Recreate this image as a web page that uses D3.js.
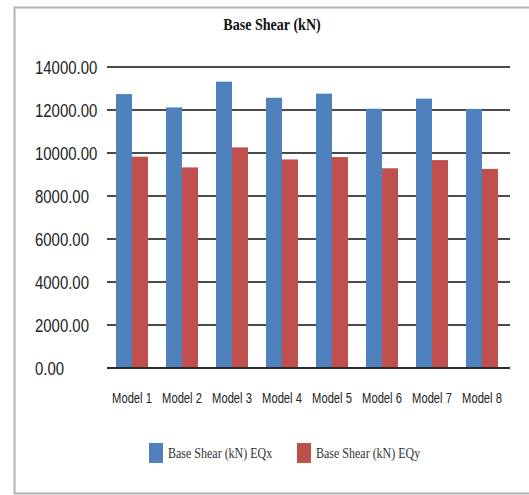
<!DOCTYPE html>
<meta charset="utf-8">
<head>
    <title>Base Shear</title>
    <script src="https://d3js.org/d3.v7.min.js"></script>
</head>

<style>
    body { margin: 0; background: white; overflow: hidden; }
    svg { display: block; }
    .ytick text { font-family: "Liberation Sans", sans-serif; font-size: 18px; fill: #222; }
    .xtick text { font-family: "Liberation Sans", sans-serif; font-size: 14px; fill: #222; }
    .title { font-family: "Liberation Serif", serif; font-weight: bold; font-size: 16px; fill: #111; }
    .legend text { font-family: "Liberation Serif", serif; font-size: 15px; fill: #333; }
</style>

<svg>
    <g></g>
</svg>

<script>
    var vWidth = 529;
    var vHeight = 495;

    var vModels = ['Model 1', 'Model 2', 'Model 3', 'Model 4', 'Model 5', 'Model 6', 'Model 7', 'Model 8'];
    var vEQx = [12740, 12120, 13320, 12570, 12760, 12060, 12530, 12050];
    var vEQy = [9830, 9330, 10260, 9700, 9810, 9290, 9670, 9260];
    var vSeries = ['Base Shear (kN) EQx', 'Base Shear (kN) EQy'];
    var vColors = ['#4f81bd', '#c0504d'];
    var vTicks = [0, 2000, 4000, 6000, 8000, 10000, 12000, 14000];

    var svg = d3.select('svg').attr('width', vWidth).attr('height', vHeight);
    var g = svg.select('g');

    // frame (left, top, bottom only)
    g.append('path')
        .attr('d', 'M' + (vWidth + 10) + ',7.5 H14.5 V493.5 H' + (vWidth + 10))
        .attr('fill', 'none').attr('stroke', '#b4b4b4').attr('stroke-width', 2);

    g.append('text').attr('class', 'title')
        .attr('transform', 'translate(272,30) scale(0.88,1)').attr('text-anchor', 'middle')
        .text('Base Shear (kN)');

    var x = d3.scaleBand().domain(vModels).range([107, 507]).paddingInner(0.36).paddingOuter(0.18);
    var xSub = d3.scaleBand().domain([0, 1]).range([0, x.bandwidth()]);
    var y = d3.scaleLinear().domain([0, 14000]).range([368, 67]);

    // gridlines
    g.selectAll('.grid').data(vTicks).enter().append('line')
        .attr('x1', 107).attr('x2', 510)
        .attr('y1', function (d) { return y(d); })
        .attr('y2', function (d) { return y(d); })
        .attr('stroke', '#2a2a2a').attr('stroke-width', 2).attr('stroke-opacity', 0.85);

    // bars
    var vRows = vModels.map(function (m, i) { return {name: m, vals: [vEQx[i], vEQy[i]]}; });
    var groups = g.selectAll('.grp').data(vRows).enter().append('g')
        .attr('transform', function (d) { return 'translate(' + x(d.name) + ',0)'; });
    groups.selectAll('rect').data(function (d) { return d.vals; }).enter().append('rect')
        .attr('x', function (d, i) { return xSub(i); })
        .attr('y', function (d) { return y(d); })
        .attr('width', xSub.bandwidth())
        .attr('height', function (d) { return y(0) - y(d); })
        .attr('fill', function (d, i) { return vColors[i]; });

    // base line
    g.append('line').attr('x1', 107).attr('x2', 510).attr('y1', y(0)).attr('y2', y(0))
        .attr('stroke', '#2a2a2a').attr('stroke-width', 2);

    // y labels (left aligned, condensed)
    var yAxis = g.append('g').attr('class', 'ytick');
    yAxis.selectAll('text').data(vTicks).enter().append('text')
        .attr('transform', function (d) { return 'translate(35,' + (y(d) + 6.5) + ') scale(0.83,1)'; })
        .text(function (d) { return d3.format('.2f')(d); });

    // x labels
    var xAxis = g.append('g').attr('class', 'xtick');
    xAxis.selectAll('text').data(vModels).enter().append('text')
        .attr('transform', function (d) { return 'translate(' + (x(d) + x.bandwidth() / 2) + ',403) scale(0.8,1)'; })
        .attr('text-anchor', 'middle')
        .text(function (d) { return d; });

    // legend
    var vLegX = [149, 297];
    var leg = g.append('g').attr('class', 'legend');
    var items = leg.selectAll('g').data(vSeries).enter().append('g')
        .attr('transform', function (d, i) { return 'translate(' + vLegX[i] + ',443)'; });
    items.append('rect').attr('width', 14).attr('height', 20)
        .attr('fill', function (d, i) { return vColors[i]; });
    items.append('text').attr('transform', 'translate(19,15) scale(0.8,1)').text(function (d) { return d; });
</script>
